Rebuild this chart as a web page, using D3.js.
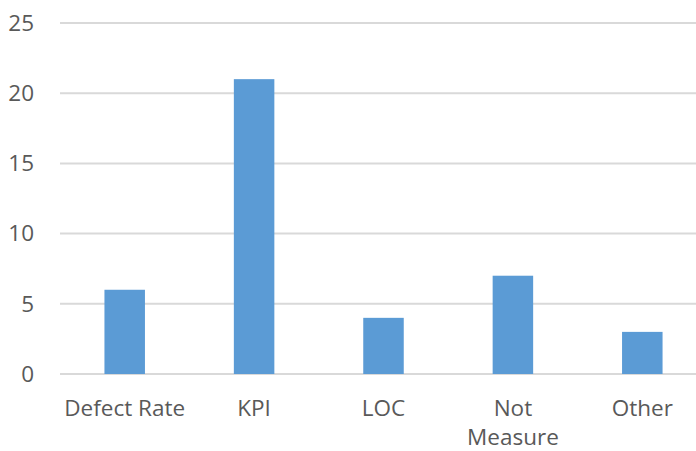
<!DOCTYPE html>
<html>
<head>
<meta charset="utf-8">
<script src="https://cdn.jsdelivr.net/npm/d3@7"></script>
<style>
  html, body { margin: 0; padding: 0; background: #fff; }
  svg { display: block; }
</style>
</head>
<body>
<svg id="chart" width="696" height="451"></svg>
<script>
const categories = ["Defect Rate", "KPI", "LOC", "Not Measure", "Other"];
const counts = [6, 21, 4, 7, 3];
const yTicks = [0, 5, 10, 15, 20, 25];

const svg = d3.select("#chart");
const margin = { left: 60, right: -11, top: 23, bottom: 77 };
const width = 696, height = 451;

const x = d3.scaleBand()
  .domain(categories)
  .range([margin.left, width - margin.right])
  .paddingInner(0.687)
  .paddingOuter(0.3435);

const y = d3.scaleLinear()
  .domain([0, 25])
  .range([height - margin.bottom, margin.top]);

const font = "'Open Sans', sans-serif";
const textColor = "#595959";
const fontSize = "22.5px";

// horizontal gridlines
svg.append("g")
  .selectAll("line")
  .data(yTicks)
  .join("line")
  .attr("x1", margin.left)
  .attr("x2", width - margin.right)
  .attr("y1", d => y(d))
  .attr("y2", d => y(d))
  .attr("stroke", "#d9d9d9")
  .attr("stroke-width", 2);

// y axis labels
const yAxis = d3.axisLeft(y).tickValues(yTicks).tickSize(0).tickPadding(26);
svg.append("g")
  .attr("transform", `translate(${margin.left},0)`)
  .call(yAxis)
  .call(g => g.select(".domain").remove())
  .call(g => g.selectAll("text")
    .attr("fill", textColor)
    .style("font-family", font)
    .style("font-size", fontSize));

// bars
svg.append("g")
  .selectAll("rect")
  .data(categories)
  .join("rect")
  .attr("x", d => x(d))
  .attr("width", x.bandwidth())
  .attr("y", (d, i) => y(counts[i]))
  .attr("height", (d, i) => y(0) - y(counts[i]))
  .attr("fill", "#5b9bd5");

// x axis labels, wrapped onto two lines where needed
const xAxis = d3.axisBottom(x).tickSize(0).tickPadding(0);
svg.append("g")
  .attr("transform", `translate(0,${y(0)})`)
  .call(xAxis)
  .call(g => g.select(".domain").remove())
  .call(g => g.selectAll("text").each(function(d) {
    const t = d3.select(this);
    t.text(null)
      .attr("y", 0)
      .attr("dy", null)
      .attr("fill", textColor)
      .style("font-family", font)
      .style("font-size", fontSize);
    const words = d === "Not Measure" ? ["Not", "Measure"] : [d];
    words.forEach((w, i) => {
      t.append("tspan")
        .attr("x", 0)
        .attr("y", 42 + i * 29)
        .text(w);
    });
  }));
</script>
</body>
</html>
